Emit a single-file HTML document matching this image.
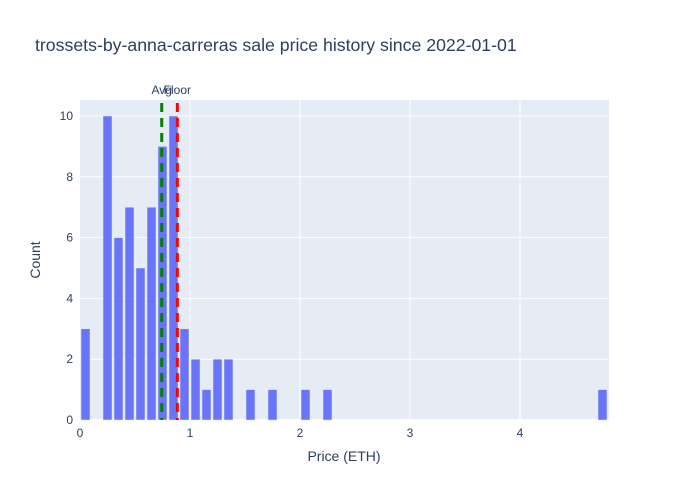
<!DOCTYPE html>
<html><head><meta charset="utf-8"><style>
body{margin:0;background:#fff;font-family:"Liberation Sans",sans-serif}
</style></head><body>
<svg id="chart" width="700" height="500" style="display:block">
<rect width="700" height="500" fill="#fff"/>
<text x="35" y="51" font-size="17.7" fill="#2a3f5f">trossets-by-anna-carreras sale price history since 2022-01-01</text>
<rect x="80" y="100" width="529" height="320" fill="#e5ecf6"/>
<g id="grid"></g><g id="bars"></g><g id="lines"></g><g id="axes"></g>
<text x="344" y="461" font-size="14" fill="#2a3f5f" text-anchor="middle">Price (ETH)</text>
<text transform="translate(40,260) rotate(-90)" font-size="14" fill="#2a3f5f" text-anchor="middle">Count</text>
</svg>
<script>
const binStarts=[0,0.2,0.3,0.4,0.5,0.6,0.7,0.8,0.9,1.0,1.1,1.2,1.3,1.5,1.7,2.0,2.2,4.7];
const counts=[3,10,6,7,5,7,9,10,3,2,1,2,2,1,1,1,1,1];
const binWidth=0.1;
const xTicks=[0,1,2,3,4];
const yTicks=[0,2,4,6,8,10];
const avgPrice=0.743, floorPrice=0.885;
const NS="http://www.w3.org/2000/svg";
const X=v=>80+v*110, Y=v=>420-v*30.4;
function mk(tag,attrs,parent,text){const e=document.createElementNS(NS,tag);for(const k in attrs)e.setAttribute(k,attrs[k]);if(text!==undefined)e.textContent=text;document.getElementById(parent).appendChild(e);return e;}
yTicks.forEach(t=>{
 if(t>0){const g=mk('line',{x1:80,x2:609,y1:Y(t),y2:Y(t),stroke:'#fff','stroke-width':1},'grid');
 
 }
 const l=mk('text',{x:73,y:Y(t)+4,'font-size':12,fill:'#2a3f5f','text-anchor':'end'},'axes',t);
 
 
});
xTicks.forEach(t=>{
 if(t>0){const g=mk('line',{x1:X(t),x2:X(t),y1:100,y2:420,stroke:'#fff','stroke-width':1},'grid');
 
 }
 const l=mk('text',{x:X(t),y:437,'font-size':12,fill:'#2a3f5f','text-anchor':'middle'},'axes',t);
 
 
});
const z=mk('line',{x1:80,x2:609,y1:420,y2:420,stroke:'#fff','stroke-width':2},'grid');


binStarts.forEach((b,i)=>{
 const x0=X(b)+1,x1=X(b+binWidth)-1;
 const r=mk('rect',{x:x0,y:Y(counts[i]),width:x1-x0,height:420-Y(counts[i]),fill:'#636efa',stroke:'#e5ecf6','stroke-width':0.5,opacity:0.95},'bars');
 
 
});
[[avgPrice,'green','Avg'],[floorPrice,'red','Floor']].forEach(([v,c,n])=>{
 const l=mk('line',{x1:X(v),x2:X(v),y1:103,y2:420,stroke:c,'stroke-width':3,'stroke-dasharray':'9,6'},'lines');
 
 
 const t=mk('text',{x:X(v),y:94,'font-size':12,fill:'#2a3f5f','text-anchor':'middle'},'lines',n);
 
 
});
</script>
</body></html>
